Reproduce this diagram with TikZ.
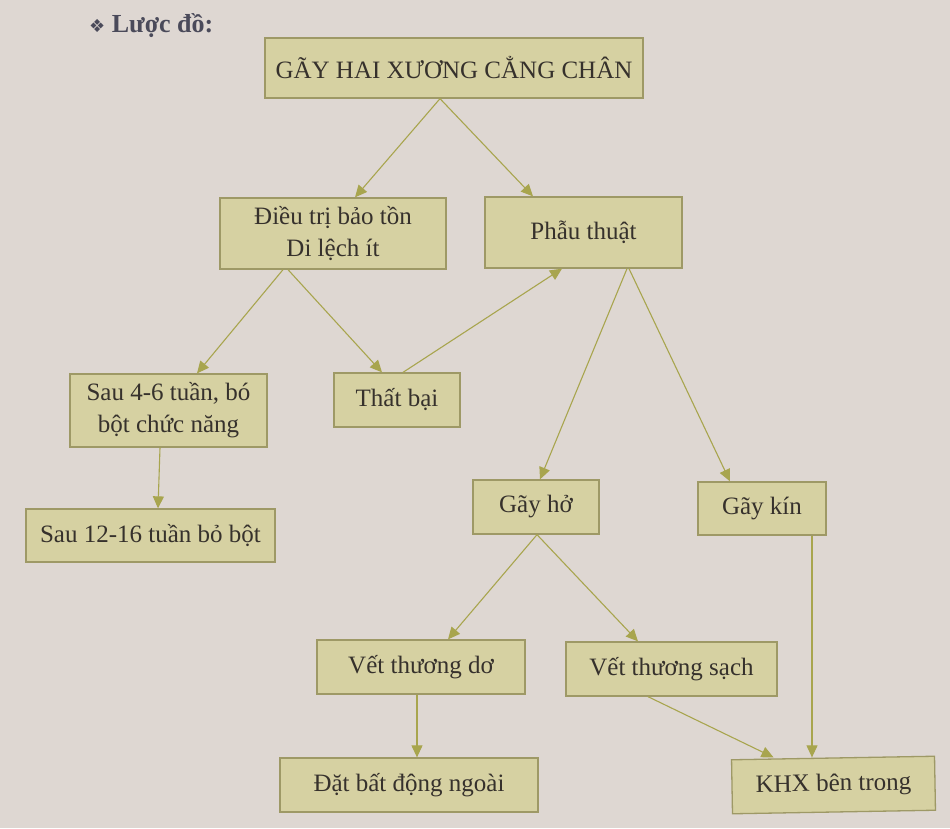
\documentclass[tikz,border=0pt]{standalone}
\usepackage{fontspec}
\setmainfont{Liberation Serif}
\newfontfamily\symfont{DejaVu Sans}
\usetikzlibrary{arrows.meta}
\definecolor{paper}{HTML}{DED7D2}
\definecolor{boxfill}{HTML}{D6D1A2}
\definecolor{boxline}{HTML}{9E9966}
\definecolor{arrcol}{HTML}{A8A54E}
\definecolor{ink}{HTML}{36312C}
\definecolor{headink}{HTML}{4A4A5A}
\tikzset{
  box/.style={draw=boxline, fill=boxfill, line width=1.3pt, text=ink,
    font=\fontsize{25}{32}\selectfont, inner sep=0pt, align=center},
  arr/.style={draw=arrcol, line width=1.1pt, -{Triangle[length=12pt,width=11pt]}}
}
\begin{document}
\begin{tikzpicture}[x=1pt,y=-1pt]
\fill[paper] (0,0) rectangle (950,828);
\useasboundingbox (0,0) rectangle (950,828);

\node[anchor=west, text=headink, font=\fontsize{26}{30}\selectfont\bfseries, inner sep=0pt] (head) at (89,26) {{\symfont\fontsize{18}{20}\selectfont ❖}\ Lược đồ:};

\node[box, minimum width=378, minimum height=60] (t) at (454,68) {GÃY HAI XƯƠNG CẲNG CHÂN};
\node[box, minimum width=226, minimum height=71] (dt) at (333,233.5) {Điều trị bảo tồn\\Di lệch ít};
\node[box, minimum width=197, minimum height=71] (pt) at (583.5,232.5) {Phẫu thuật};
\node[box, minimum width=197, minimum height=73] (s46) at (168.5,410.5) {Sau 4-6 tuần, bó\\bột chức năng};
\node[box, minimum width=126, minimum height=54] (tb) at (397,400) {Thất bại};
\node[box, minimum width=249, minimum height=53] (s12) at (150.5,535.5) {Sau 12-16 tuần bỏ bột};
\node[box, minimum width=126, minimum height=54] (gh) at (536,507) {Gãy hở};
\node[box, minimum width=128, minimum height=53] (gk) at (762,508.5) {Gãy kín};
\node[box, minimum width=208, minimum height=54] (vtd) at (421,667) {Vết thương dơ};
\node[box, minimum width=211, minimum height=54] (vts) at (671.5,669) {Vết thương sạch};
\node[box, minimum width=258, minimum height=54] (dbd) at (409,785) {Đặt bất động ngoài};
\node[box, minimum width=203, minimum height=54, rotate=1] (khx) at (833.5,785) {KHX bên trong};

\draw[arr] ([xshift=-14pt]t.south) -- ([xshift=22pt]dt.north);
\draw[arr] ([xshift=-14pt]t.south) -- ([xshift=-50.5pt]pt.north);
\draw[arr] ([xshift=-50pt]dt.south) -- ([xshift=28.5pt]s46.north);
\draw[arr] ([xshift=-45pt]dt.south) -- ([xshift=-15pt]tb.north);
\draw[arr] ([xshift=6pt]tb.north) -- ([xshift=-21.5pt]pt.south);
\draw[arr] ([xshift=43.5pt]pt.south) -- ([xshift=4pt]gh.north);
\draw[arr] ([xshift=45.5pt]pt.south) -- ([xshift=-32pt]gk.north);
\draw[arr] ([xshift=-8.5pt]s46.south) -- ([xshift=7.5pt]s12.north);
\draw[arr] ([xshift=1pt]gh.south) -- ([xshift=27pt]vtd.north);
\draw[arr] ([xshift=1pt]gh.south) -- ([xshift=-33.5pt]vts.north);
\draw[arr] ([xshift=-4pt]vtd.south) -- ([xshift=8pt]dbd.north);
\draw[arr] ([xshift=-23.5pt]vts.south) -- ([xshift=-59.5pt]khx.north);
\draw[arr] ([xshift=50pt]gk.south) -- ([xshift=50pt]gk.south |- khx.north);
\end{tikzpicture}
\end{document}
